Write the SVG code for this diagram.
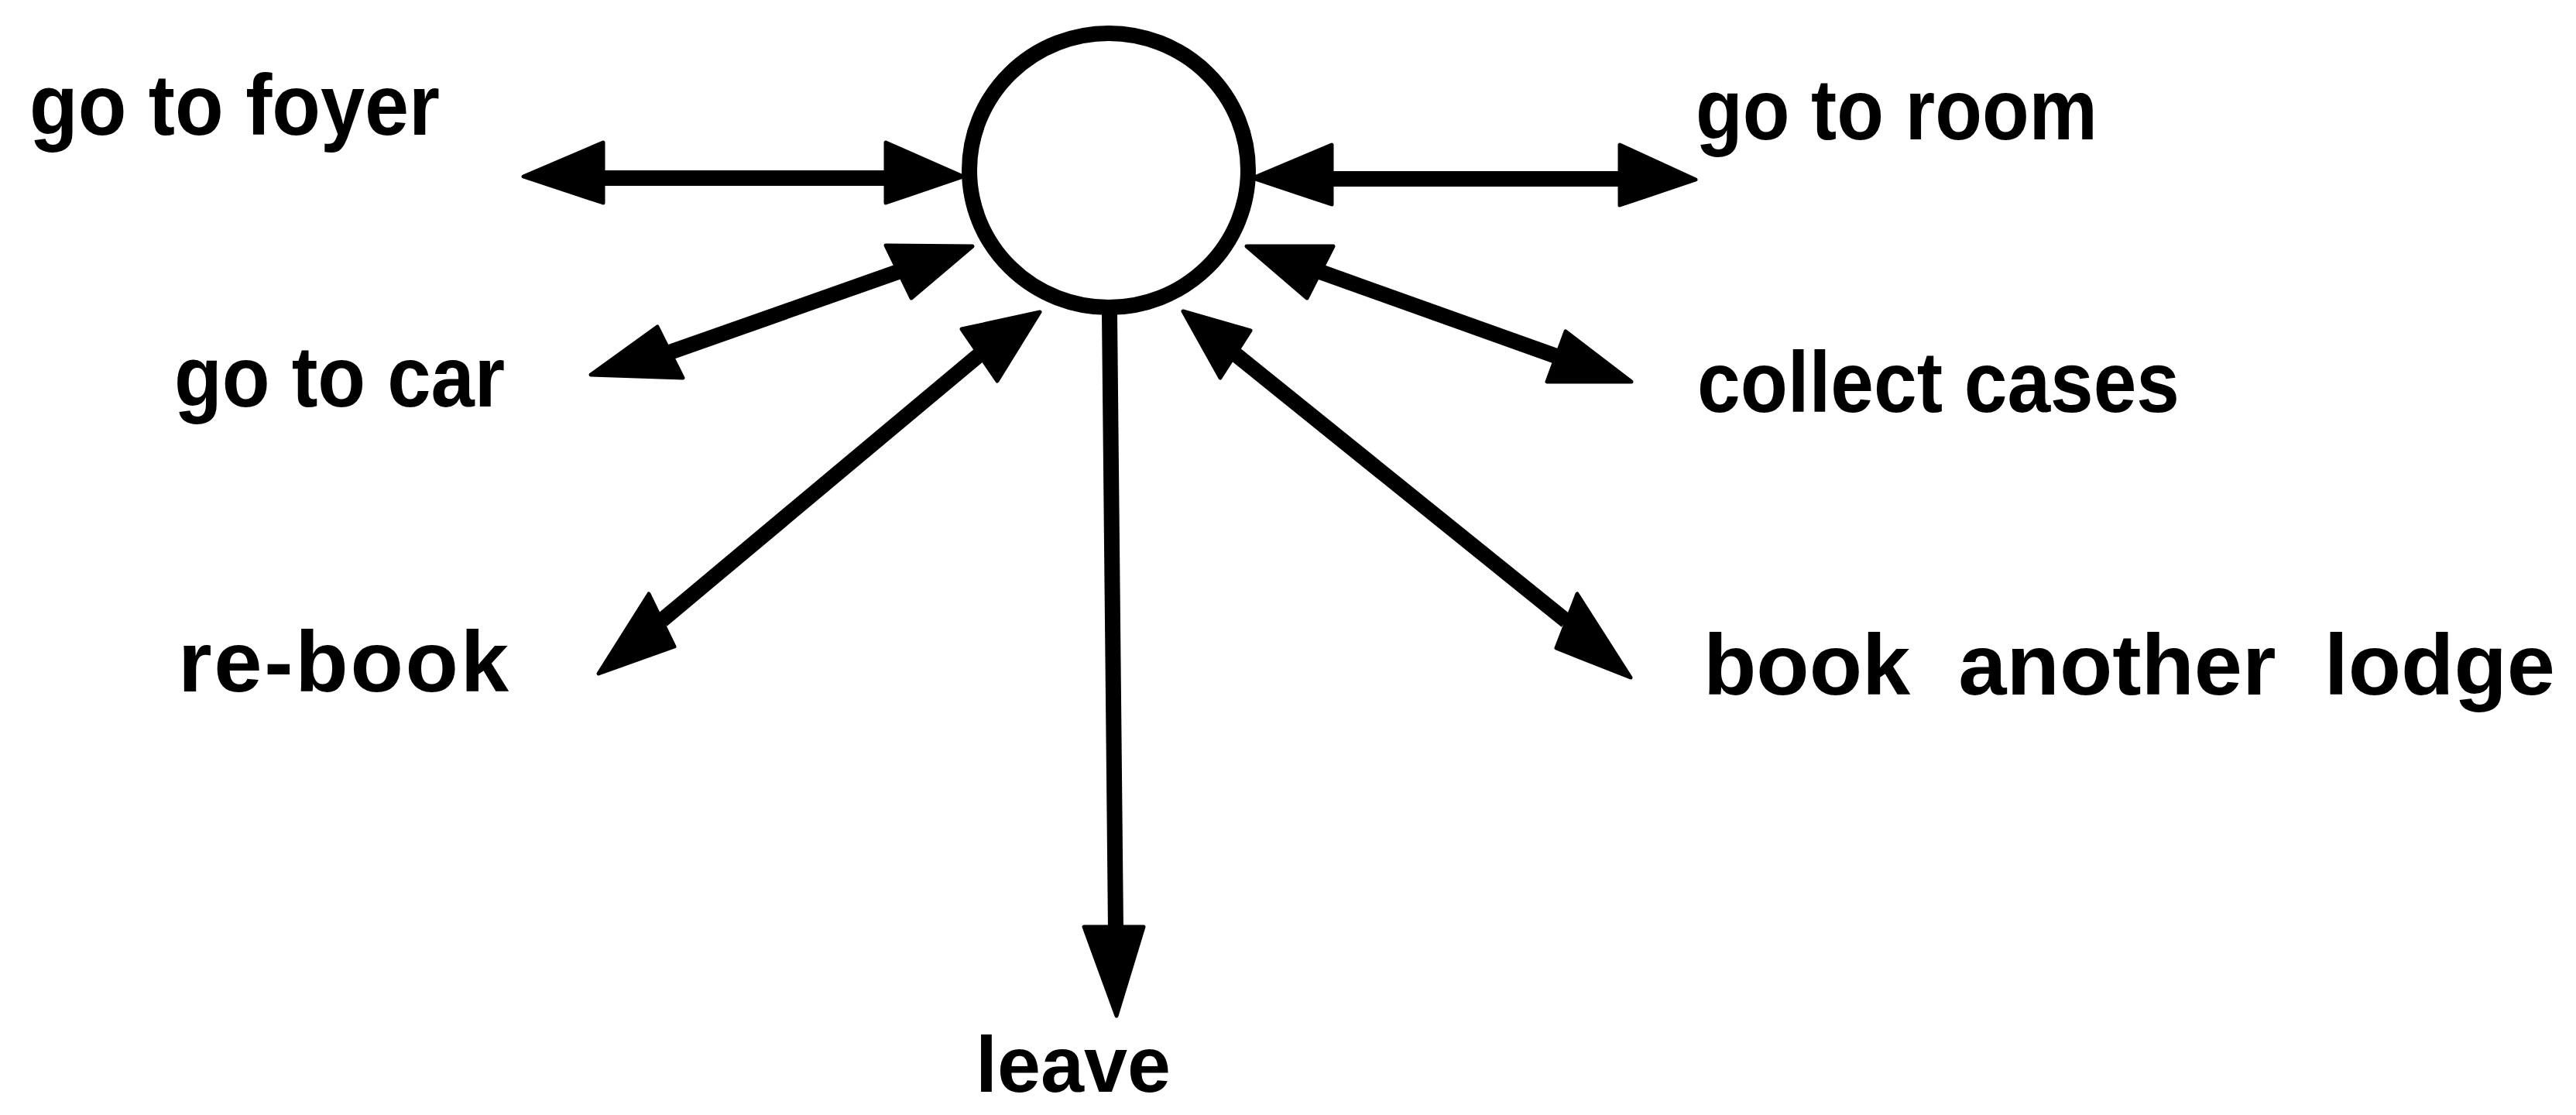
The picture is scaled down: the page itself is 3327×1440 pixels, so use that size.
<svg xmlns="http://www.w3.org/2000/svg" width="3327" height="1440" viewBox="0 0 3327 1440">
<style>
.lbl{font-family:"Liberation Sans",Arial,sans-serif;font-weight:bold;font-size:112px;fill:#000}
.ln{stroke:#000;stroke-width:20;fill:none;stroke-linecap:butt}
.hd{fill:#000;stroke:#000;stroke-width:5;stroke-linejoin:round}
</style>
<rect width="3327" height="1440" fill="#fff"/>
<g id="state">
<ellipse cx="1432" cy="220" rx="180" ry="177" fill="#fff" stroke="#000" stroke-width="20"/>
</g>
<g id="connectors">
<line class="ln" x1="775" y1="230" x2="1148" y2="230"/>
<polygon class="hd" points="676,228 779,184 779,262"/>
<polygon class="hd" points="1244,228 1144,184 1144,262"/>
<line class="ln" x1="1716" y1="231" x2="2096" y2="231"/>
<polygon class="hd" points="1618,230 1720,187 1720,264"/>
<polygon class="hd" points="2190,232 2092,187 2092,265"/>
<line class="ln" x1="865" y1="455" x2="1160" y2="351"/>
<polygon class="hd" points="1256,318 1144,317 1177,385"/>
<polygon class="hd" points="763,484 849,422 882,488"/>
<line class="ln" x1="855" y1="801" x2="1265" y2="458"/>
<polygon class="hd" points="1343,403 1242,425 1288,492"/>
<polygon class="hd" points="773,870 838,767 871,835"/>
<line class="ln" x1="1705" y1="351" x2="2010" y2="460"/>
<polygon class="hd" points="1610,318 1722,318 1688,385"/>
<polygon class="hd" points="2107,493 2022,428 1998,493"/>
<line class="ln" x1="1595" y1="457" x2="2023" y2="802"/>
<polygon class="hd" points="1528,402 1615,427 1576,488"/>
<polygon class="hd" points="2106,875 2037,767 2010,837"/>
<line class="ln" x1="1433" y1="405" x2="1441" y2="1200"/>
<polygon class="hd" points="1400,1197 1477,1197 1442,1312"/>
</g>
<g id="go-to-foyer"><text class="lbl" x="38" y="174" textLength="530" lengthAdjust="spacingAndGlyphs">go to foyer</text></g>
<g id="go-to-car"><text class="lbl" x="225" y="525" textLength="427" lengthAdjust="spacingAndGlyphs">go to car</text></g>
<g id="re-book"><text class="lbl" x="230" y="893" textLength="427" lengthAdjust="spacing">re-book</text></g>
<g id="go-to-room"><text class="lbl" x="2190" y="180" textLength="519" lengthAdjust="spacingAndGlyphs">go to room</text></g>
<g id="collect-cases"><text class="lbl" x="2192" y="532" textLength="623" lengthAdjust="spacingAndGlyphs">collect cases</text></g>
<g id="book-another-lodge"><text class="lbl" x="2200" y="897" xml:space="preserve" textLength="1100" lengthAdjust="spacingAndGlyphs">book  another  lodge</text></g>
<g id="leave"><text class="lbl" x="1260" y="1410" style="font-size:102px" textLength="252" lengthAdjust="spacingAndGlyphs">leave</text></g>
</svg>
